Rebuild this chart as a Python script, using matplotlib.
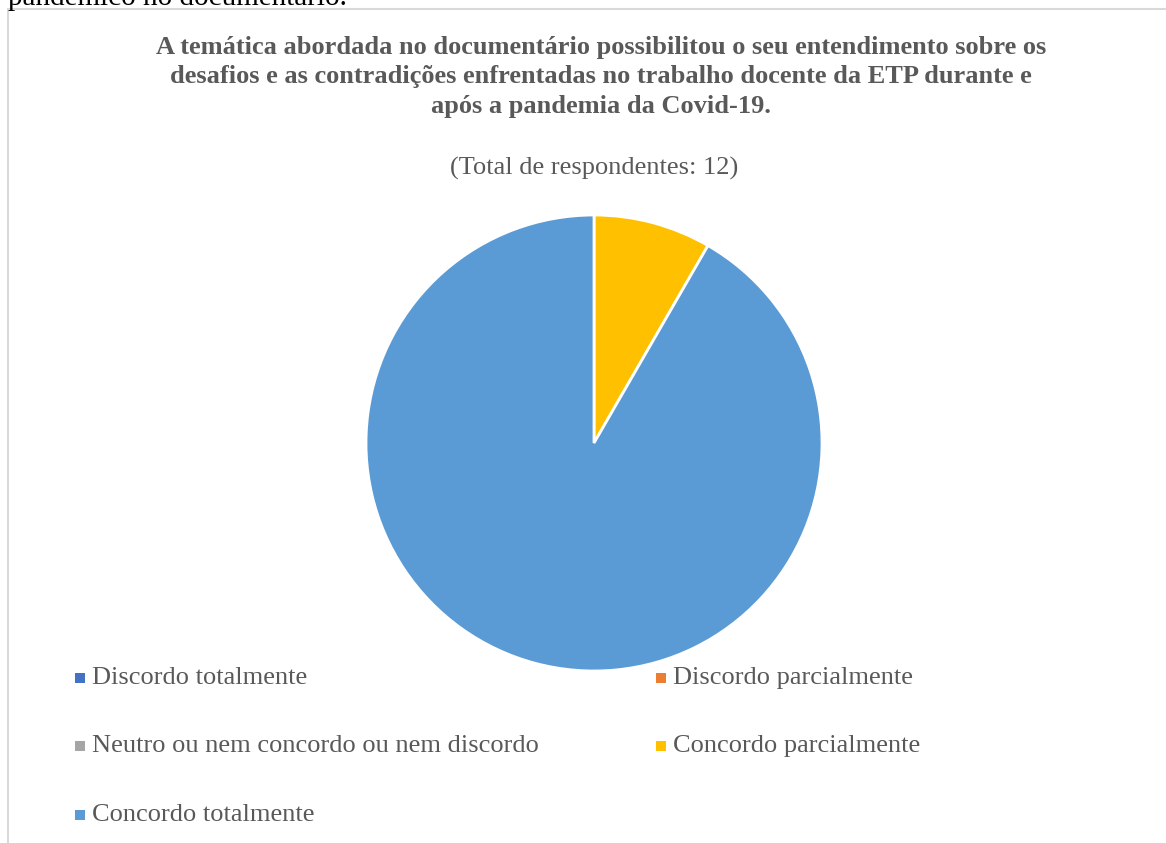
import matplotlib.pyplot as plt
from matplotlib.patches import Rectangle

plt.rcParams['font.family'] = ['Liberation Serif', 'DejaVu Serif']

# Respostas (escala Likert)
categorias = ["Discordo totalmente", "Discordo parcialmente",
              "Neutro ou nem concordo ou nem discordo",
              "Concordo parcialmente", "Concordo totalmente"]
respostas = [0, 0, 0, 1, 11]
cores = ["#4472C4", "#ED7D31", "#A5A5A5", "#FFC000", "#5B9BD5"]

titulo = ("A temática abordada no documentário possibilitou o seu entendimento sobre os\n"
          "desafios e as contradições enfrentadas no trabalho docente da ETP durante e\n"
          "após a pandemia da Covid-19.")
subtitulo = f"(Total de respondentes: {sum(respostas)})"

W, H = 1166, 843
fig = plt.figure(figsize=(W / 100, H / 100), dpi=100)

# texto do documento cortado no topo
fig.text(8 / W, 1 - 5 / H, "pandêmico no documentário.", fontsize=21,
         color="black", ha="left", va="baseline")

# moldura do gráfico
fig.add_artist(Rectangle((8 / W, -0.05), 1.2, 1 - 9 / H + 0.05,
                         transform=fig.transFigure, fill=False,
                         edgecolor="#D9D9D9", linewidth=1.5))

fig.text(601 / W, 1 - 77 / H, titulo, fontsize=19, fontweight="bold",
         color="#595959", ha="center", va="center", linespacing=1.37)
fig.text(594 / W, 1 - 168 / H, subtitulo, fontsize=19,
         color="#595959", ha="center", va="center")

# gráfico de pizza
cx, cy, r = 594, 443, 228
ax = fig.add_axes([(cx - r) / W, (H - cy - r) / H, 2 * r / W, 2 * r / H])
vals = [v for v in respostas if v > 0]
cols = [c for v, c in zip(respostas, cores) if v > 0]
ax.pie(vals, colors=cols, startangle=90, counterclock=False, radius=1,
       wedgeprops=dict(edgecolor="white", linewidth=2))
ax.set_xlim(-1.0, 1.0)
ax.set_ylim(-1.0, 1.0)
ax.axis("off")

# legenda
posicoes = [(80, 678), (661, 678), (80, 746), (661, 746), (80, 815)]
for (x, y), nome, cor in zip(posicoes, categorias, cores):
    fig.add_artist(Rectangle(((x - 5) / W, 1 - (y + 5) / H), 10 / W, 10 / H,
                             transform=fig.transFigure, facecolor=cor,
                             edgecolor="none"))
    fig.text((x + 12) / W, 1 - y / H, nome, fontsize=19, color="#595959",
             ha="left", va="center")

fig.savefig("out.png", dpi=100)
